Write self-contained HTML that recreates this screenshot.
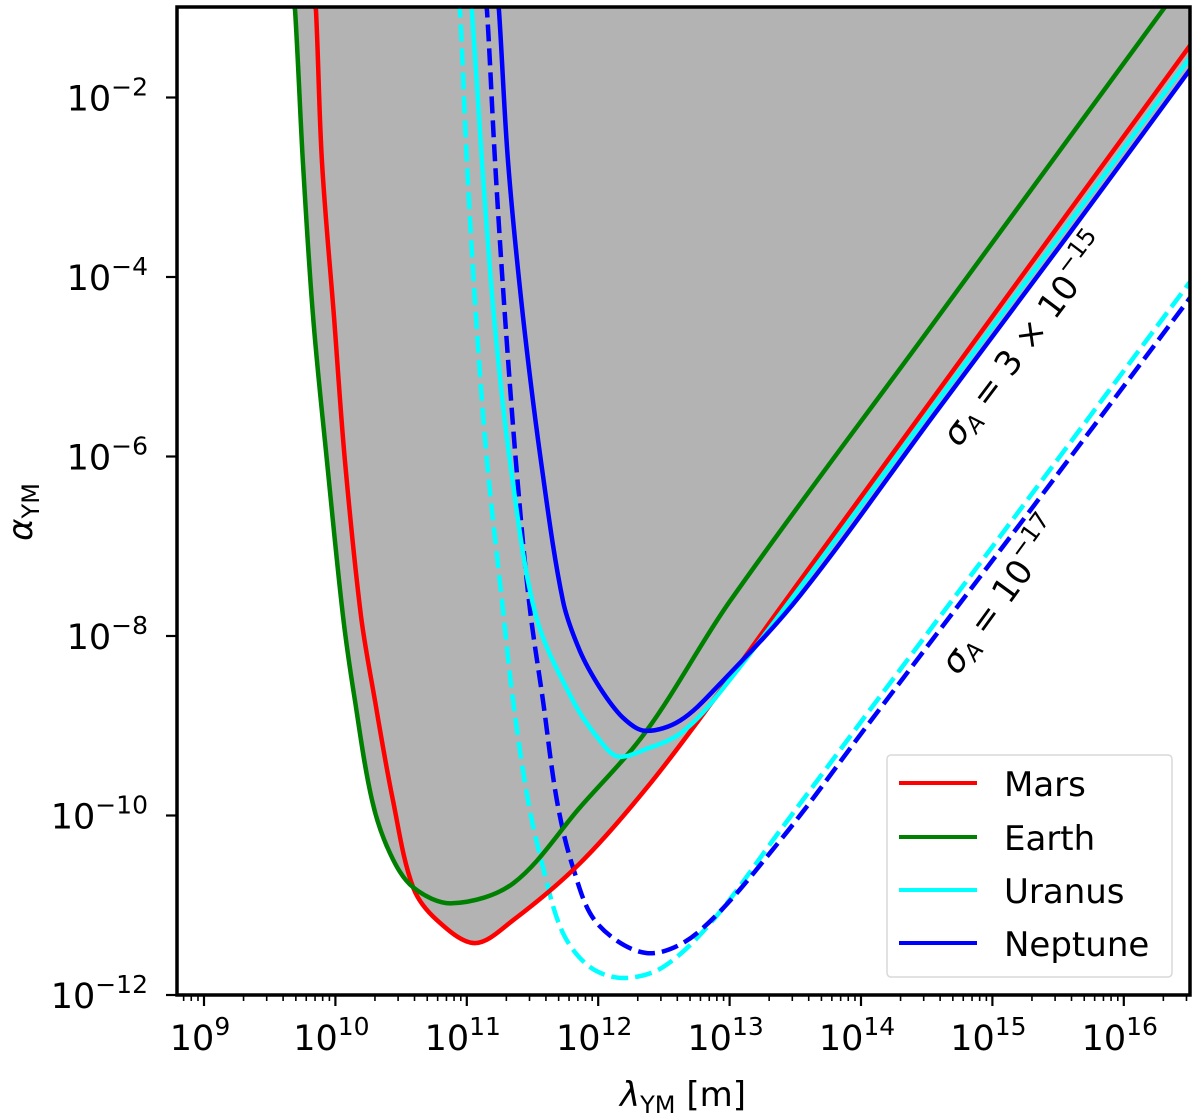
<!DOCTYPE html>
<html><head><meta charset="utf-8"><style>
body{margin:0;background:#fff;}
svg{display:block;font-family:"DejaVu Sans","Liberation Sans",sans-serif;}
</style></head><body>
<svg id="chart" width="1200" height="1115" viewBox="0 0 1200 1115" xmlns="http://www.w3.org/2000/svg">
<defs><clipPath id="plotclip"><rect x="177" y="7" width="1013" height="988"/></clipPath></defs>
<g id="fills" clip-path="url(#plotclip)"></g>
<g id="curves" clip-path="url(#plotclip)"></g>
<g id="axes"></g>
<text transform="translate(1027,341) rotate(-53)" text-anchor="middle" font-size="34" dominant-baseline="middle"><tspan font-style="italic">σ</tspan><tspan font-size="23" dy="9" font-style="italic">A</tspan><tspan dy="-9"> = 3 × 10</tspan><tspan font-size="24" dy="-14">−15</tspan></text>
<text transform="translate(1003,597) rotate(-54)" text-anchor="middle" font-size="34" dominant-baseline="middle"><tspan font-style="italic">σ</tspan><tspan font-size="23" dy="9" font-style="italic">A</tspan><tspan dy="-9"> = 10</tspan><tspan font-size="24" dy="-14">−17</tspan></text>
<g>
<rect x="887" y="755" width="285" height="222" rx="4" fill="#fff" fill-opacity="0.85" stroke="#d9d9d9" stroke-width="1.5"/>
<line x1="899" y1="783" x2="977" y2="783" stroke="#ff0000" stroke-width="4"/>
<text x="1004" y="796" font-size="34">Mars</text>
<line x1="899" y1="837" x2="977" y2="837" stroke="#008000" stroke-width="4"/>
<text x="1004" y="850" font-size="34">Earth</text>
<line x1="899" y1="890" x2="977" y2="890" stroke="#00ffff" stroke-width="4"/>
<text x="1004" y="903" font-size="34">Uranus</text>
<line x1="899" y1="943" x2="977" y2="943" stroke="#0000ff" stroke-width="4"/>
<text x="1004" y="956" font-size="34">Neptune</text>
</g>
<text x="683" y="1106" text-anchor="middle" font-size="34"><tspan font-style="italic">λ</tspan><tspan font-size="24" dy="7">YM</tspan><tspan dy="-7"> [m]</tspan></text>
<text transform="translate(32,512) rotate(-90)" text-anchor="middle" font-size="34"><tspan font-style="italic">α</tspan><tspan font-size="24" dy="7">YM</tspan></text>
</svg>
<script>
// log10(lambda) / log10(alpha) values
const marsX = [9.837,9.852,9.898,9.989,10.073,10.195,10.301,10.438,10.591,10.773,11.062,11.352,11.861,12.371,12.874,13.384,13.536,14.548,15.568,16.504];
const marsY = [-0.922,-1.033,-2.722,-4.444,-6.056,-7.778,-8.722,-9.833,-10.8,-11.167,-11.422,-11.167,-10.533,-9.689,-8.722,-7.689,-7.384,-5.35,-3.30,-1.422];
const earthX = [9.677,9.693,9.753,9.830,9.936,10.058,10.149,10.279,10.416,10.591,10.887,11.352,11.861,12.371,13.003,14.5,15.5,16.298,16.352];
const earthY = [-0.92,-1.033,-2.722,-4.444,-6.056,-7.778,-8.722,-9.833,-10.422,-10.8,-10.978,-10.756,-9.911,-9.05,-7.611,-4.617,-2.617,-1.022,-0.911];
const uranusX = [11.024,11.039,11.116,11.207,11.329,11.527,11.808,12.014,12.151,12.371,12.622,12.874,13.536,14.548,15.568,16.504];
const uranusY = [-0.922,-1.033,-2.722,-4.444,-6.056,-7.778,-8.722,-9.167,-9.344,-9.256,-9.089,-8.722,-7.46,-5.45,-3.43,-1.556];
const neptuneX = [11.230,11.245,11.314,11.428,11.565,11.732,11.861,12.014,12.189,12.356,12.622,12.927,13.536,14.548,15.568,16.504];
const neptuneY = [-0.922,-1.033,-2.722,-4.444,-6.056,-7.611,-8.167,-8.578,-8.911,-9.056,-8.944,-8.533,-7.55,-5.55,-3.55,-1.689];
const uranusDashX = [10.933,10.948,11.001,11.070,11.154,11.268,11.352,11.466,11.580,11.732,11.938,12.189,12.493,12.874,13.384,14.046,15.309,16.504];
const uranusDashY = [-0.922,-1.033,-2.722,-4.444,-6.056,-7.611,-8.722,-9.833,-10.578,-11.311,-11.689,-11.811,-11.689,-11.167,-10.167,-8.867,-6.4,-4.056];
const neptuneDashX = [11.138,11.154,11.215,11.291,11.374,11.473,11.580,11.686,11.808,11.991,12.371,12.752,13.384,14.046,15.309,16.504];
const neptuneDashY = [-0.922,-1.033,-2.722,-4.444,-6.056,-7.611,-8.722,-9.833,-10.578,-11.2,-11.533,-11.311,-10.278,-9.0,-6.56,-4.233];
const xTickExps = [9,10,11,12,13,14,15,16];
const yTickExps = [-2,-4,-6,-8,-10,-12];

const NS='http://www.w3.org/2000/svg';
const X0=177,X1=1190,Y0=7,Y1=995;
function sx(l){return 204+(l-9)*131.4;}
function sy(l){return 995-(l+12)*89.75;}
function mk(t,a,p){const e=document.createElementNS(NS,t);for(const k in a)e.setAttribute(k,a[k]);p.appendChild(e);return e;}
function pathD(xs,ys){
  const P=xs.map((v,i)=>[sx(v),sy(ys[i])]);
  let d='M'+P[0][0].toFixed(1)+','+P[0][1].toFixed(1);
  for(let i=0;i<P.length-1;i++){
    const p0=P[Math.max(0,i-1)],p1=P[i],p2=P[i+1],p3=P[Math.min(P.length-1,i+2)];
    const d01=Math.hypot(p1[0]-p0[0],p1[1]-p0[1])||1,d12=Math.hypot(p2[0]-p1[0],p2[1]-p1[1])||1,d23=Math.hypot(p3[0]-p2[0],p3[1]-p2[1])||1;
    const t1=[(p2[0]-p0[0])/(d01+d12)*d12,(p2[1]-p0[1])/(d01+d12)*d12];
    const t2=[(p3[0]-p1[0])/(d12+d23)*d12,(p3[1]-p1[1])/(d12+d23)*d12];
    const c1=[p1[0]+t1[0]/3,p1[1]+t1[1]/3];
    const c2=[p2[0]-t2[0]/3,p2[1]-t2[1]/3];
    d+=' C'+c1[0].toFixed(1)+','+c1[1].toFixed(1)+' '+c2[0].toFixed(1)+','+c2[1].toFixed(1)+' '+p2[0].toFixed(1)+','+p2[1].toFixed(1);
  }
  return d;
}
const fills=document.getElementById('fills'),curves=document.getElementById('curves'),axes=document.getElementById('axes');
const solids=[['mars',marsX,marsY,'#ff0000'],['earth',earthX,earthY,'#008000'],['uranus',uranusX,uranusY,'#00ffff'],['neptune',neptuneX,neptuneY,'#0000ff']];
solids.forEach(s=>{
  const d=pathD(s[1],s[2]);
  const last=s[1].length-1;
  const f=mk('path',{d:d+' L'+sx(s[1][last]).toFixed(1)+',-50 L'+sx(s[1][0]).toFixed(1)+',-50 Z',fill:'#b3b3b3'},fills);
  
  
});
const dashes=[['uranus-dashed',uranusDashX,uranusDashY,'#00ffff'],['neptune-dashed',neptuneDashX,neptuneDashY,'#0000ff']];
dashes.forEach(s=>{
  const e=mk('path',{d:pathD(s[1],s[2]),fill:'none',stroke:s[3],'stroke-width':4.5,'stroke-dasharray':'17,7'},curves);
  
  
});
solids.forEach(s=>{
  const e=mk('path',{d:pathD(s[1],s[2]),fill:'none',stroke:s[3],'stroke-width':4.5},curves);
  
  
});
const fr=mk('rect',{x:X0,y:Y0,width:X1-X0,height:Y1-Y0,fill:'none',stroke:'#000','stroke-width':3.5},axes);


for(let e=8;e<=16;e++){
  for(let m=1;m<10;m++){
    const x=sx(e+Math.log10(m));
    if(x<X0||x>X1)continue;
    const major=m===1;
    const t=mk('line',{x1:x,y1:Y1,x2:x,y2:Y1+(major?11:6),stroke:'#000','stroke-width':major?2.2:1.6},axes);
    
    
  }
}
xTickExps.forEach(e=>{
  const t=mk('text',{x:sx(e)-4,y:1050,'text-anchor':'middle','font-size':35},axes);
  
  
  t.textContent='10';
  const s=mk('tspan',{'font-size':25,dy:-15},t);s.textContent=String(e);
});
yTickExps.forEach(e=>{
  const y=sy(e);
  const tk=mk('line',{x1:X0-11,y1:y,x2:X0,y2:y,stroke:'#000','stroke-width':2.2},axes);
  
  
  const t=mk('text',{x:148,y:y+13,'text-anchor':'end','font-size':35},axes);
  
  
  const a=mk('tspan',{},t);a.textContent='10';
  const s=mk('tspan',{'font-size':25,dy:-15},t);s.textContent='−'+Math.abs(e);
});
</script>
</body></html>
